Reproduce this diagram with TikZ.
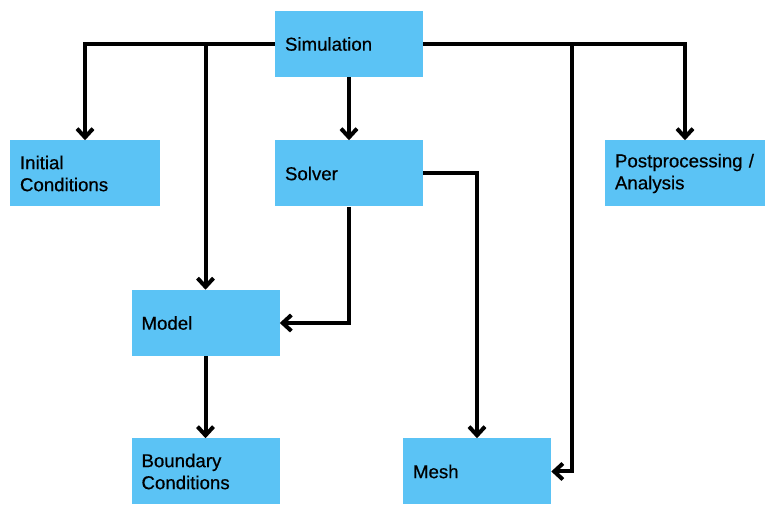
\documentclass[tikz,border=0pt]{standalone}
\usepackage{fontspec}
\setmainfont{Liberation Sans}
\newfontfamily\medfont{Liberation Sans}[FakeBold=0.5]
\usetikzlibrary{arrows.meta}
\definecolor{boxblue}{HTML}{5BC3F5}
\tikzset{
  box/.style={fill=boxblue, draw=none, minimum height=49.5pt, inner xsep=7.5pt, inner ysep=0pt,
    align=left, font=\medfont\fontsize{14}{16.5}\selectfont, text=black},
  w148/.style={text width=96pt},
  w150/.style={text width=97.5pt},
  w160/.style={text width=105pt},
  conn/.style={line width=3pt, -{Straight Barb[length=6.5pt,width=12pt,line width=3pt]}}
}
\begin{document}
\begin{tikzpicture}[x=0.75pt,y=-0.75pt]
\useasboundingbox (0,0) rectangle (776,516);
\node[box,w148] (sim) at (349,44) {Simulation};
\node[box,w150] (init) at (85,173.5) {Initial\\Conditions};
\node[box,w148] (solver) at (349,173.5) {Solver};
\node[box,w160] (post) at (685,173.5) {Postprocessing /\\Analysis};
\node[box,w148] (model) at (205.5,323) {Model};
\node[box,w148] (bound) at (205.5,471.5) {Boundary\\Conditions};
\node[box,w148] (mesh) at (477,471.5) {Mesh};
\coordinate (c1) at (572,200);
\draw[conn] (sim.west) -| (init.north);
\draw[conn] (sim.west) -| (model.north);
\draw[conn] (sim.south) -- (solver.north);
\draw[conn] (sim.east) -| (post.north);
\draw[conn] (sim.east) -| (c1) |- (mesh.east);
\draw[conn] (solver.east) -| (mesh.north);
\draw[conn] (solver.south) |- (model.east);
\draw[conn] (model.south) -- (bound.north);
\end{tikzpicture}
\end{document}
